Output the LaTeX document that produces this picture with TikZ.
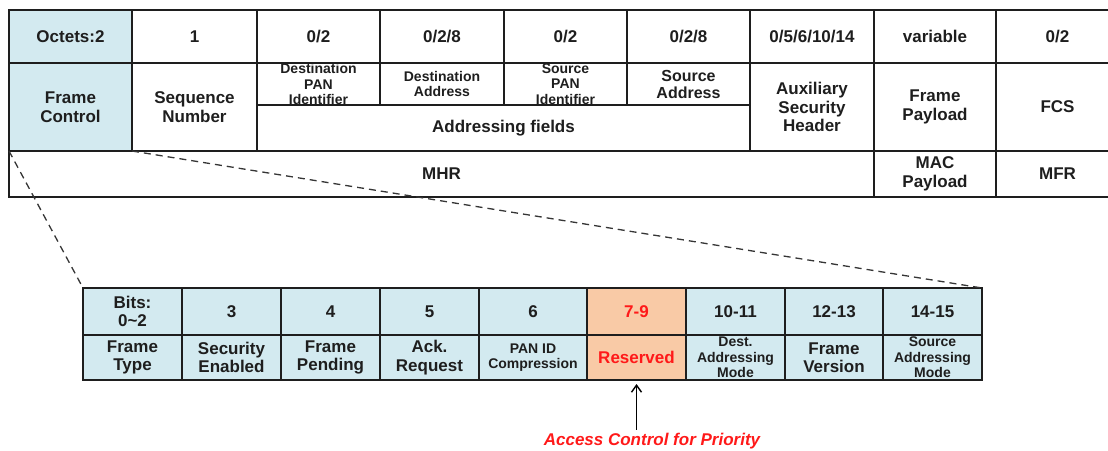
\documentclass[tikz,border=0pt]{standalone}
\usepackage{fontspec}
\setmainfont{Liberation Sans}
\usetikzlibrary{arrows.meta}

\definecolor{fcblue}{RGB}{211,234,240}
\definecolor{resorange}{RGB}{249,202,166}
\definecolor{prired}{RGB}{255,25,25}
\definecolor{celltext}{RGB}{30,30,30}

\begin{document}
\begin{tikzpicture}[x=1pt, y=-1pt,
  cell/.style={draw=celltext, line width=1.3pt, inner sep=0pt, outer sep=0pt,
    anchor=north west, align=center, text=celltext,
    font=\bfseries\fontsize{17}{18.5}\selectfont},
  small/.style={font=\bfseries\fontsize{14}{15.5}\selectfont},
  fcfill/.style={fill=fcblue},
  resfill/.style={fill=resorange, text=prired},
  zoomline/.style={draw=celltext!90, line width=1.3pt, dash pattern=on 7pt off 5pt},
  arr/.style={-{Straight Barb[length=7pt,width=10pt]}, line width=1.4pt, shorten >=4pt}]
\useasboundingbox (0,0) rectangle (1108,450);

% frame format: sizes
\node[cell, fcfill, minimum width=123pt, minimum height=53pt] (o-fc) at (9,10) {Octets:2};
\node[cell, minimum width=125pt, minimum height=53pt] (o-seq) at (132,10) {1};
\node[cell, minimum width=123pt, minimum height=53pt] (o-dpan) at (257,10) {0/2};
\node[cell, minimum width=124pt, minimum height=53pt] (o-daddr) at (380,10) {0/2/8};
\node[cell, minimum width=123pt, minimum height=53pt] (o-span) at (504,10) {0/2};
\node[cell, minimum width=123pt, minimum height=53pt] (o-saddr) at (627,10) {0/2/8};
\node[cell, minimum width=124pt, minimum height=53pt] (o-aux) at (750,10) {0/5/6/10/14};
\node[cell, minimum width=122pt, minimum height=53pt] (o-pay) at (874,10) {variable};
\node[cell, minimum width=123pt, minimum height=53pt] (o-fcs) at (996,10) {0/2};

% frame format: fields
\node[cell, fcfill, minimum width=123pt, minimum height=88pt] (f-fc) at (9,63) {Frame\\Control};
\node[cell, minimum width=125pt, minimum height=88pt] (f-seq) at (132,63) {Sequence\\Number};
\node[cell, small, minimum width=123pt, minimum height=42pt] (f-dpan) at (257,63) {Destination\\PAN\\Identifier};
\node[cell, small, minimum width=124pt, minimum height=42pt] (f-daddr) at (380,63) {Destination\\Address};
\node[cell, small, minimum width=123pt, minimum height=42pt] (f-span) at (504,63) {Source\\PAN\\Identifier};
\node[cell, minimum width=123pt, minimum height=42pt, font=\bfseries\fontsize{16}{17}\selectfont] (f-saddr) at (627,63) {Source\\Address};
\node[cell, minimum width=493pt, minimum height=46pt] (addr) at (257,105) {Addressing fields};
\node[cell, minimum width=124pt, minimum height=88pt] (f-aux) at (750,63) {Auxiliary\\Security\\Header};
\node[cell, minimum width=122pt, minimum height=88pt] (f-pay) at (874,63) {Frame\\Payload};
\node[cell, minimum width=123pt, minimum height=88pt] (f-fcs) at (996,63) {FCS};

\node[cell, minimum width=865pt, minimum height=46pt] (mhr) at (9,151) {MHR};
\node[cell, minimum width=122pt, minimum height=46pt] (macpay) at (874,151) {MAC\\Payload};
\node[cell, minimum width=123pt, minimum height=46pt] (mfr) at (996,151) {MFR};

\draw[draw=celltext, line width=2.8pt] (o-fc.south west) -- (o-fcs.south east);

% frame control: bits
\node[cell, fcfill, minimum width=99pt, minimum height=47pt] (b-type) at (83,288) {Bits:\\0\textasciitilde2};
\node[cell, fcfill, minimum width=99pt, minimum height=47pt] (b-sec) at (182,288) {3};
\node[cell, fcfill, minimum width=99pt, minimum height=47pt] (b-pend) at (281,288) {4};
\node[cell, fcfill, minimum width=99pt, minimum height=47pt] (b-ack) at (380,288) {5};
\node[cell, fcfill, minimum width=108pt, minimum height=47pt] (b-panc) at (479,288) {6};
\node[cell, resfill, minimum width=99pt, minimum height=47pt] (b-res) at (587,288) {7-9};
\node[cell, fcfill, minimum width=99pt, minimum height=47pt] (b-dmode) at (686,288) {10-11};
\node[cell, fcfill, minimum width=98pt, minimum height=47pt] (b-ver) at (785,288) {12-13};
\node[cell, fcfill, minimum width=99pt, minimum height=47pt] (b-smode) at (883,288) {14-15};

% frame control: subfields
\node[cell, fcfill, minimum width=99pt, minimum height=45pt] (n-type) at (83,335) {Frame\\Type};
\node[cell, fcfill, minimum width=99pt, minimum height=45pt] (n-sec) at (182,335) {Security\\Enabled};
\node[cell, fcfill, minimum width=99pt, minimum height=45pt] (n-pend) at (281,335) {Frame\\Pending};
\node[cell, fcfill, minimum width=99pt, minimum height=45pt] (n-ack) at (380,335) {Ack.\\Request};
\node[cell, fcfill, small, minimum width=108pt, minimum height=45pt] (n-panc) at (479,335) {PAN ID\\Compression};
\node[cell, resfill, minimum width=99pt, minimum height=45pt] (n-res) at (587,335) {Reserved};
\node[cell, fcfill, small, minimum width=99pt, minimum height=45pt] (n-dmode) at (686,335) {Dest.\\Addressing\\Mode};
\node[cell, fcfill, minimum width=98pt, minimum height=45pt] (n-ver) at (785,335) {Frame\\Version};
\node[cell, fcfill, small, minimum width=99pt, minimum height=45pt] (n-smode) at (883,335) {Source\\Addressing\\Mode};

% zoom onto frame control
\draw[zoomline] (f-fc.south west) -- (b-type.north west);
\draw[zoomline] (f-fc.south east) -- (b-smode.north east);

\node[text=prired, font=\bfseries\itshape\fontsize{17}{18}\selectfont] (prio) at (652,441) {Access Control for Priority};
\draw[arr] (n-res.south |- prio.north) -- (n-res.south);
\end{tikzpicture}
\end{document}
